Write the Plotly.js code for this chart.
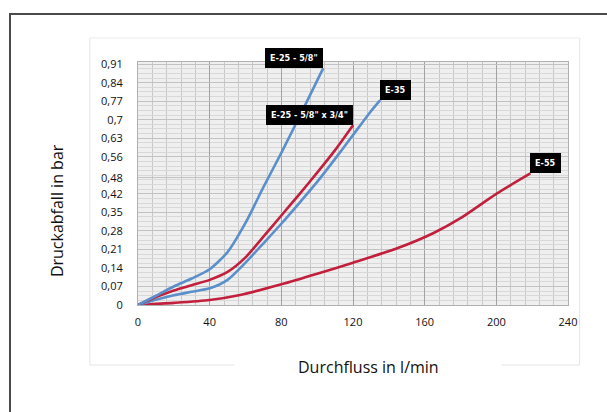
<!DOCTYPE html>
<html>
<head>
<meta charset="utf-8">
<script src="https://cdn.plot.ly/plotly-3.0.1.min.js"></script>
<style>
  html, body { margin: 0; padding: 0; background: #fff; }
  #wrap { position: relative; width: 607px; height: 412px; overflow: hidden; }
  #frame { position: absolute; left: 9px; top: 13px; width: 700px; height: 500px;
           border-top: 2px solid #4a4a4a; border-left: 2px solid #4a4a4a; pointer-events: none; }
  #chart { position: absolute; left: 0; top: 0; width: 607px; height: 412px; }
</style>
</head>
<body>
<div id="wrap">
  <div id="chart"></div>
  <div id="frame"></div>
</div>
<script>
// ---- data ----
const e25_58_x   = [0, 10, 20, 30, 40, 50, 60, 70, 80, 90, 103.4];
const e25_58_y   = [0, 0.035, 0.07, 0.1, 0.135, 0.2, 0.31, 0.445, 0.575, 0.71, 0.895];

const e25_5834_x = [0, 10, 20, 30, 40, 50, 60, 70, 80, 90, 100, 110, 120.1];
const e25_5834_y = [0, 0.03, 0.055, 0.075, 0.095, 0.125, 0.18, 0.258, 0.338, 0.418, 0.5, 0.585, 0.68];

const e35_x      = [0, 10, 20, 30, 40, 50, 60, 70, 80, 90, 100, 110, 120, 130, 135.2];
const e35_y      = [0, 0.02, 0.037, 0.05, 0.063, 0.095, 0.16, 0.233, 0.307, 0.385, 0.465, 0.552, 0.642, 0.732, 0.774];

const e55_x      = [0, 20, 40, 57, 80, 100, 120, 145, 165, 180, 200, 219];
const e55_y      = [0, 0.008, 0.019, 0.038, 0.078, 0.118, 0.16, 0.215, 0.272, 0.328, 0.42, 0.497];

const seriesNames = ['E-25 - 5/8"', 'E-25 - 5/8" x 3/4"', 'E-35', 'E-55'];

const xTickVals = [0, 40, 80, 120, 160, 200, 240];
const xTickText = ['0', '40', '80', '120', '160', '200', '240'];
const yTickVals = [0, 0.07, 0.14, 0.21, 0.28, 0.35, 0.42, 0.48, 0.56, 0.63, 0.7, 0.77, 0.84, 0.91];
const yTickText = ['0', '0,07', '0,14', '0,21', '0,28', '0,35', '0,42', '0,48', '0,56', '0,63', '0,7', '0,77', '0,84', '0,91'];

const xTitle = 'Durchfluss in l/min';
const yTitle = 'Druckabfall in bar';

// ---- chart ----
const BLUE = '#5b8fca';
const RED  = '#c21f3c';

function line(x, y, color, name) {
  return { x: x, y: y, type: 'scatter', mode: 'lines', name: name,
           line: { color: color, width: 2.6, shape: 'spline', smoothing: 0.7 },
           hoverinfo: 'skip', showlegend: false };
}

const traces = [
  line(e55_x, e55_y, RED, seriesNames[3]),
  line(e35_x, e35_y, BLUE, seriesNames[2]),
  line(e25_5834_x, e25_5834_y, RED, seriesNames[1]),
  line(e25_58_x, e25_58_y, BLUE, seriesNames[0])
];

function tag(text, x, y, xanchor) {
  return { text: '<b>' + text + '</b>', x: x, y: y, xref: 'x', yref: 'y',
           xanchor: xanchor, yanchor: 'bottom', showarrow: false,
           bgcolor: '#000', bordercolor: '#000', borderwidth: 1, borderpad: 4,
           font: { family: 'Liberation Sans Narrow, DejaVu Sans Condensed, sans-serif', size: 9, color: '#fff' } };
}

const tickFont = { family: 'Open Sans, sans-serif', size: 11, color: '#111' };
const titleFont = { family: 'Open Sans, sans-serif', size: 16, color: '#111' };

const layout = {
  width: 607, height: 412,
  margin: { l: 138, r: 39, t: 62, b: 107 },
  paper_bgcolor: 'rgba(0,0,0,0)',
  plot_bgcolor: '#efefef',
  showlegend: false,
  xaxis: {
    range: [0, 240], tickmode: 'array', tickvals: xTickVals, ticktext: xTickText,
    tickfont: tickFont, ticks: 'outside', ticklen: 7, tickcolor: 'rgba(0,0,0,0)',
    showgrid: true, gridcolor: '#a2a2a2', gridwidth: 1,
    minor: { tickmode: 'linear', tick0: 0, dtick: 8, showgrid: true, gridcolor: '#c8c8c8', gridwidth: 1 },
    zeroline: false, showline: true, linecolor: '#b0b0b0', linewidth: 1, mirror: true,
    fixedrange: true
  },
  yaxis: {
    range: [0, 0.918], tickmode: 'array', tickvals: yTickVals, ticktext: yTickText,
    tickfont: tickFont, ticks: 'outside', ticklen: 12, tickcolor: 'rgba(0,0,0,0)',
    showgrid: true, gridcolor: '#c2c2c2', gridwidth: 1,
    minor: { tickmode: 'linear', tick0: 0, dtick: 0.0175, showgrid: true, gridcolor: '#d8d8d8', gridwidth: 1 },
    zeroline: false, showline: true, linecolor: '#b0b0b0', linewidth: 1, mirror: true,
    fixedrange: true
  },
  shapes: [
    { type: 'line', xref: 'paper', yref: 'paper', x0: -0.112, x1: -0.112, y0: -0.247, y1: 1.099, line: { color: '#e4e4e4', width: 1 } },
    { type: 'line', xref: 'paper', yref: 'paper', x0: -0.112, x1: 1.027, y0: 1.099, y1: 1.099, line: { color: '#ececec', width: 1 } },
    { type: 'line', xref: 'paper', yref: 'paper', x0: 1.027, x1: 1.027, y0: -0.247, y1: 1.099, line: { color: '#e4e4e4', width: 1 } },
    { type: 'line', xref: 'paper', yref: 'paper', x0: -0.112, x1: 0.224, y0: -0.247, y1: -0.247, line: { color: '#e4e4e4', width: 1 } },
    { type: 'line', xref: 'paper', yref: 'paper', x0: 0.845, x1: 1.027, y0: -0.247, y1: -0.247, line: { color: '#e4e4e4', width: 1 } }
  ],
  annotations: [
    tag(seriesNames[0], 103.4, 0.895, 'right'),
    tag(seriesNames[1], 120.1, 0.68, 'right'),
    tag(seriesNames[2], 135.2, 0.774, 'left'),
    tag(seriesNames[3], 219, 0.497, 'left'),
    { text: xTitle, xref: 'paper', yref: 'paper', x: 0.537, y: -0.255, xanchor: 'center', yanchor: 'middle',
      showarrow: false, font: titleFont },
    { text: yTitle, xref: 'paper', yref: 'paper', x: -0.188, y: 0.387, xanchor: 'center', yanchor: 'middle',
      textangle: -90, showarrow: false, font: titleFont }
  ]
};

Plotly.newPlot('chart', traces, layout, { staticPlot: true, displayModeBar: false });
</script>
</body>
</html>
